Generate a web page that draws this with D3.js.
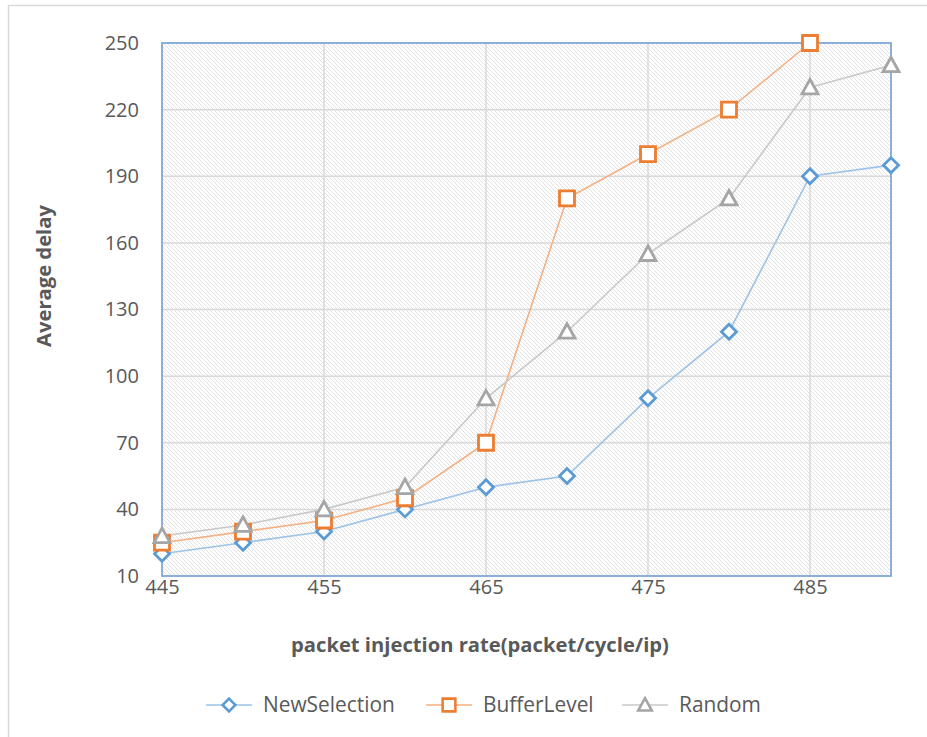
<!DOCTYPE html>
<html>
<head>
<meta charset="utf-8">
<script src="https://cdn.jsdelivr.net/npm/d3@7"></script>
<style>
  html, body { margin: 0; padding: 0; background: #fff; }
  svg { display: block; font-family: "Open Sans", Lato, "Liberation Sans", sans-serif; }
</style>
</head>
<body>
<svg id="chart" width="927" height="737"></svg>
<script>
// Injection rates on the x axis
const rates = [445, 450, 455, 460, 465, 470, 475, 480, 485, 490];
// Average delay per routing strategy (null = no value plotted)
const newSelection = [20, 25, 30, 40, 50, 55, 90, 120, 190, 195];
const bufferLevel  = [25, 30, 35, 45, 70, 180, 200, 220, 250, null];
const randomSel    = [28, 33, 40, 50, 90, 120, 155, 180, 230, 240];
const seriesNames  = ["NewSelection", "BufferLevel", "Random"];
const xTicks = [445, 455, 465, 475, 485];
const yTicks = [10, 40, 70, 100, 130, 160, 190, 220, 250];

const svg = d3.select("#chart");
const W = 927, H = 737;
const plot = { left: 162, right: 891, top: 43, bottom: 576 };
const textColor = "#595959";

const x = d3.scaleLinear().domain([445, 490]).range([plot.left, plot.right]);
const y = d3.scaleLinear().domain([10, 250]).range([plot.bottom, plot.top]);

// font size at which a text element spans the given width
function fittedSize(sel, width) {
  const fs = parseFloat(sel.style("font-size"));
  const w = sel.node().getComputedTextLength();
  return w > 0 ? fs * width / w : fs;
}

// outer chart frame (only top and left edges fall inside the view)
svg.append("path")
  .attr("d", `M8.5,${H} V5.5 H${W}`)
  .attr("fill", "none").attr("stroke", "#d9d9d9").attr("stroke-width", 1.5);

// diagonal hatch fill for the plot area
const defs = svg.append("defs");
const pat = defs.append("pattern")
  .attr("id", "hatch").attr("patternUnits", "userSpaceOnUse")
  .attr("width", 4).attr("height", 4);
pat.append("rect").attr("width", 4).attr("height", 4).attr("fill", "#fff");
pat.append("path").attr("d", "M-1,-1 L5,5 M-1,3 L1,5 M3,-1 L5,1")
  .attr("stroke", "#e2e2e2").attr("stroke-width", 1);

svg.append("rect")
  .attr("x", plot.left).attr("y", plot.top)
  .attr("width", plot.right - plot.left).attr("height", plot.bottom - plot.top)
  .attr("fill", "url(#hatch)");

// gridlines
const grid = svg.append("g").attr("stroke", "#d9d9d9").attr("stroke-width", 1.5);
grid.selectAll("line.h").data(yTicks.slice(1, -1)).join("line")
  .attr("x1", plot.left).attr("x2", plot.right)
  .attr("y1", d => y(d)).attr("y2", d => y(d));
grid.selectAll("line.v").data(xTicks.slice(1)).join("line")
  .attr("y1", plot.top).attr("y2", plot.bottom)
  .attr("x1", d => x(d)).attr("x2", d => x(d));

// plot area border
svg.append("rect")
  .attr("x", plot.left).attr("y", plot.top)
  .attr("width", plot.right - plot.left).attr("height", plot.bottom - plot.top)
  .attr("fill", "none").attr("stroke", "#7fa9d8").attr("stroke-width", 1.8);

// axes (labels only)
const xAxis = svg.append("g").attr("transform", `translate(0,${plot.bottom})`)
  .call(d3.axisBottom(x).tickValues(xTicks).tickSize(0).tickPadding(4).tickFormat(d3.format("d")));
const yAxis = svg.append("g").attr("transform", `translate(${plot.left},0)`)
  .call(d3.axisLeft(y).tickValues(yTicks).tickSize(0).tickPadding(23).tickFormat(d3.format("d")));
[xAxis, yAxis].forEach(a => {
  a.select(".domain").remove();
  a.selectAll("text").attr("fill", textColor).style("font-size", "20px")
    .style("font-family", "'Open Sans', sans-serif");
});

// axis titles share one font size
const xTitle = svg.append("text")
  .attr("x", 480).attr("y", 652)
  .attr("text-anchor", "middle").attr("fill", textColor)
  .style("font-size", "16px").style("font-weight", "bold")
  .text("packet injection rate(packet/cycle/ip)");
const titleSize = fittedSize(xTitle, 378);
xTitle.style("font-size", titleSize + "px");
svg.append("text")
  .attr("transform", "translate(51,276) rotate(-90)")
  .attr("text-anchor", "middle").attr("fill", textColor)
  .style("font-size", titleSize + "px").style("font-weight", "bold")
  .text("Average delay");

// series definitions
const series = [
  { name: seriesNames[0], values: newSelection, line: "#9dc3e6", mark: "#5b9bd5", shape: "diamond" },
  { name: seriesNames[1], values: bufferLevel,  line: "#f4b183", mark: "#ed7d31", shape: "square" },
  { name: seriesNames[2], values: randomSel,    line: "#c9c9c9", mark: "#a5a5a5", shape: "triangle" }
];

function markerPath(shape) {
  if (shape === "diamond") return "M0,-7.5 L7.5,0 L0,7.5 L-7.5,0 Z";
  if (shape === "square") return "M-7.5,-7.5 H7.5 V7.5 H-7.5 Z";
  return "M0,-8 L8,6.5 L-8,6.5 Z";
}

const line = d3.line()
  .defined(d => d.v !== null)
  .x(d => x(d.r)).y(d => y(d.v));

series.forEach(s => {
  const pts = rates.map((r, i) => ({ r, v: s.values[i] }));
  svg.append("path").datum(pts)
    .attr("d", line).attr("fill", "none")
    .attr("stroke", s.line).attr("stroke-width", 1.6);
});
series.forEach(s => {
  const pts = rates.map((r, i) => ({ r, v: s.values[i] })).filter(d => d.v !== null);
  svg.append("g").selectAll("path").data(pts).join("path")
    .attr("transform", d => `translate(${x(d.r)},${y(d.v)})`)
    .attr("d", markerPath(s.shape))
    .attr("fill", "#fff").attr("stroke", s.mark).attr("stroke-width", 2.8)
    .attr("stroke-linejoin", "miter");
});

// legend: marker centres along one row
const legendCx = [229, 449, 645];
const legendY = 705;
let legendSize = null;
series.forEach((s, i) => {
  const g = svg.append("g").attr("transform", `translate(${legendCx[i]},${legendY})`);
  g.append("line").attr("x1", -23).attr("x2", 23).attr("y1", 0).attr("y2", 0)
    .attr("stroke", s.line).attr("stroke-width", 1.6);
  g.append("path").attr("transform", "scale(0.85)")
    .attr("d", markerPath(s.shape))
    .attr("fill", "#fff").attr("stroke", s.mark).attr("stroke-width", 3);
  const t = g.append("text").attr("x", 34).attr("y", 0).attr("dy", "0.35em")
    .attr("fill", textColor).style("font-size", "19px")
    .text(s.name);
  if (legendSize === null) legendSize = fittedSize(t, 132);
  t.style("font-size", legendSize + "px");
});
</script>
</body>
</html>
